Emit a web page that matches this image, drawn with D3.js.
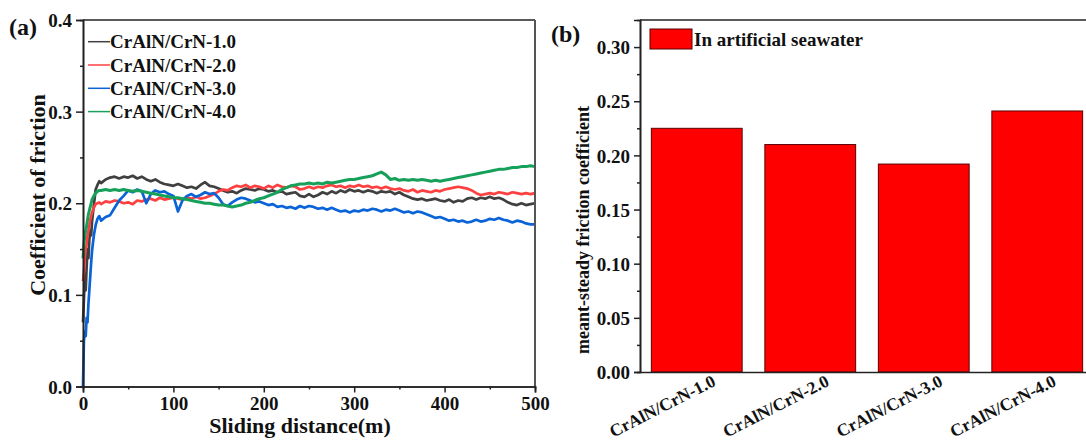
<!DOCTYPE html>
<html><head><meta charset="utf-8">
<script src="https://cdn.jsdelivr.net/npm/d3@7"></script>
<style>
body{margin:0;background:#fff;}
svg{display:block;font-family:"Liberation Serif","Times New Roman",serif;font-weight:bold;}
</style></head><body>
<svg id="c" width="1086" height="446"></svg>
<script>
// ---------- data: panel (a) ----------
const distance = [0,1,2,3,4,5,6,7,8,9,10,12,14,16,18,20,
25,30,35,40,45,50,55,60,65,70,75,80,85,90,95,100,105,110,115,120,125,130,135,140,145,150,155,160,165,170,175,180,185,190,195,200,
205,210,215,220,225,230,235,240,245,250,255,260,265,270,275,280,285,290,295,300,305,310,315,320,325,330,335,340,345,350,355,360,365,370,375,380,385,390,395,400,
405,410,415,420,425,430,435,440,445,450,455,460,465,470,475,480,485,490,495,500];
const series1 = [0.070,0.095,0.120,0.105,0.130,0.150,0.140,0.160,0.170,0.165,0.180,0.198,0.215,0.220,0.224,0.222,
0.226,0.228,0.229,0.227,0.229,0.228,0.230,0.227,0.229,0.226,0.224,0.226,0.223,0.221,0.220,0.219,0.221,0.219,0.217,0.218,0.216,0.220,0.223,0.219,0.218,0.216,0.214,0.212,0.213,0.211,0.214,0.216,0.215,0.214,0.216,0.215,
0.213,0.214,0.212,0.213,0.210,0.211,0.212,0.208,0.207,0.210,0.207,0.209,0.212,0.210,0.213,0.211,0.214,0.212,0.215,0.213,0.214,0.212,0.214,0.213,0.211,0.213,0.212,0.213,0.210,0.212,0.209,0.207,0.205,0.204,0.205,0.203,0.204,0.205,0.203,0.202,
0.204,0.201,0.203,0.202,0.205,0.206,0.204,0.206,0.205,0.207,0.205,0.206,0.204,0.201,0.199,0.198,0.200,0.198,0.199,0.200];
const series2 = [0.115,0.125,0.140,0.150,0.155,0.165,0.170,0.176,0.182,0.186,0.190,0.195,0.199,0.200,0.201,0.199,
0.202,0.201,0.203,0.202,0.200,0.201,0.199,0.203,0.202,0.204,0.205,0.203,0.206,0.204,0.205,0.206,0.205,0.204,0.206,0.205,0.207,0.205,0.206,0.208,0.210,0.213,0.215,0.214,0.217,0.219,0.218,0.220,0.217,0.219,0.218,0.216,
0.219,0.217,0.220,0.218,0.217,0.219,0.218,0.215,0.216,0.218,0.216,0.218,0.217,0.219,0.220,0.218,0.219,0.217,0.219,0.218,0.220,0.218,0.219,0.217,0.218,0.216,0.218,0.216,0.215,0.216,0.214,0.213,0.215,0.212,0.214,0.213,0.212,0.214,0.213,0.215,
0.216,0.217,0.218,0.217,0.216,0.214,0.211,0.209,0.210,0.211,0.210,0.212,0.211,0.210,0.212,0.211,0.210,0.211,0.210,0.211];
const series3 = [0.000,0.050,0.060,0.055,0.075,0.070,0.090,0.105,0.120,0.135,0.148,0.165,0.176,0.183,0.186,0.181,
0.185,0.187,0.195,0.203,0.208,0.214,0.212,0.215,0.213,0.200,0.210,0.214,0.212,0.213,0.210,0.208,0.191,0.203,0.208,0.210,0.207,0.209,0.212,0.210,0.211,0.206,0.199,0.197,0.201,0.204,0.206,0.205,0.203,0.201,0.202,0.200,
0.198,0.199,0.196,0.197,0.195,0.196,0.194,0.197,0.195,0.197,0.196,0.194,0.195,0.193,0.195,0.193,0.191,0.192,0.190,0.192,0.191,0.193,0.192,0.194,0.193,0.191,0.193,0.192,0.194,0.192,0.190,0.191,0.189,0.191,0.190,0.188,0.186,0.184,0.185,0.183,
0.181,0.182,0.180,0.181,0.179,0.180,0.182,0.180,0.181,0.183,0.182,0.184,0.182,0.181,0.179,0.181,0.180,0.178,0.177,0.177];
const series4 = [0.140,0.155,0.165,0.170,0.175,0.182,0.188,0.192,0.196,0.200,0.204,0.208,0.211,0.213,0.214,0.214,
0.215,0.214,0.215,0.214,0.215,0.214,0.213,0.214,0.213,0.212,0.211,0.210,0.209,0.208,0.207,0.206,0.206,0.205,0.204,0.203,0.202,0.201,0.200,0.200,0.199,0.198,0.198,0.197,0.196,0.197,0.198,0.200,0.201,0.203,0.205,0.206,
0.208,0.210,0.212,0.215,0.217,0.219,0.220,0.221,0.221,0.222,0.221,0.222,0.221,0.223,0.222,0.223,0.224,0.225,0.226,0.226,0.227,0.228,0.229,0.230,0.232,0.234,0.231,0.226,0.227,0.225,0.226,0.225,0.226,0.225,0.226,0.225,0.224,0.225,0.224,0.225,
0.226,0.227,0.228,0.229,0.230,0.231,0.232,0.233,0.234,0.235,0.236,0.237,0.237,0.238,0.239,0.239,0.240,0.240,0.241,0.240];
const seriesNames = ["CrAlN/CrN-1.0","CrAlN/CrN-2.0","CrAlN/CrN-3.0","CrAlN/CrN-4.0"];
const seriesColors = ["#404040","#ff4040","#0a64d8","#17a05a"];
const xTicksA = [0,100,200,300,400,500];
const yTicksA = [0,0.1,0.2,0.3,0.4];

// ---------- data: panel (b) ----------
const categories = ["CrAlN/CrN-1.0","CrAlN/CrN-2.0","CrAlN/CrN-3.0","CrAlN/CrN-4.0"];
const steadyCoef = [0.225,0.210,0.192,0.241];
const yTicksB = [0,0.05,0.10,0.15,0.20,0.25,0.30];

const svg = d3.select("#c");
const AX = "#222";

// ---------- panel (a) ----------
const xA = d3.scaleLinear().domain([0,500]).range([83,535]);
const yA = d3.scaleLinear().domain([0,0.4]).range([386.5,20]);
const allSeries = [series1,series2,series3,series4];
const line = d3.line().x((d,i)=>xA(distance[i])).y(d=>yA(d));
allSeries.forEach((s,k)=>{
  svg.append("path").datum(s).attr("d",line).attr("fill","none")
    .attr("stroke",seriesColors[k]).attr("stroke-width",k===3?3:2.7).attr("stroke-linejoin","round");
});
// frame
svg.append("line").attr("x1",xA(0)).attr("x2",xA(500)).attr("y1",yA(0.4)).attr("y2",yA(0.4)).attr("stroke",AX).attr("stroke-width",1.6);
svg.append("line").attr("x1",xA(500)).attr("x2",xA(500)).attr("y1",yA(0.4)).attr("y2",yA(0)).attr("stroke","#555").attr("stroke-width",2);
// axes
const gxA = svg.append("g").attr("transform",`translate(0,${yA(0)})`)
  .call(d3.axisBottom(xA).tickValues(xTicksA).tickSize(6).tickPadding(4).tickFormat(d3.format("d")));
const gxAm = svg.append("g").attr("transform",`translate(0,${yA(0)})`)
  .call(d3.axisBottom(xA).tickValues([50,150,250,350,450]).tickSize(3).tickFormat(""));
const gyA = svg.append("g").attr("transform",`translate(${xA(0)},0)`)
  .call(d3.axisLeft(yA).tickValues(yTicksA).tickSize(7).tickPadding(4).tickFormat(d3.format(".1f")));
const gyAm = svg.append("g").attr("transform",`translate(${xA(0)},0)`)
  .call(d3.axisLeft(yA).tickValues([0.05,0.15,0.25,0.35]).tickSize(3).tickFormat(""));
[gxA,gxAm,gyA,gyAm].forEach(g=>{
  g.select(".domain").attr("stroke",AX).attr("stroke-width",1.6);
  g.selectAll(".tick line").attr("stroke",AX).attr("stroke-width",1.5);
  g.selectAll("text").attr("fill","#111").style("font-size","19px").style("font-family","Liberation Serif, serif").style("font-weight","bold");
});
gyA.selectAll("text").attr("dy","0.35em");
gxA.selectAll("text").attr("dy","0.72em");
svg.append("text").attr("x",300).attr("y",433).attr("text-anchor","middle")
  .style("font-size","22px").attr("fill","#111").text("Sliding distance(m)");
svg.append("text").attr("transform","translate(45,195) rotate(-90)").attr("text-anchor","middle")
  .style("font-size","22px").attr("fill","#111").text("Coefficient of friction");
svg.append("text").attr("x",9).attr("y",35).style("font-size","24px").attr("fill","#111").text("(a)");
// legend (a)
seriesNames.forEach((n,k)=>{
  const yy = 41.7 + k*23.3;
  svg.append("line").attr("x1",88).attr("x2",110).attr("y1",yy).attr("y2",yy).attr("stroke",seriesColors[k]).attr("stroke-width",1.5);
  svg.append("text").attr("x",110).attr("y",yy+6.5).style("font-size","19px").attr("fill","#111").text(n);
});

// ---------- panel (b) ----------
const xB = d3.scaleBand().domain(categories).range([640,1094]).paddingInner(0.2).paddingOuter(0.1);
const yB = d3.scaleLinear().domain([0,0.325]).range([372,20]);
svg.selectAll("rect.bar").data(steadyCoef).enter().append("rect").attr("class","bar")
  .attr("x",(d,i)=>xB(categories[i])).attr("width",xB.bandwidth())
  .attr("y",d=>yB(d)).attr("height",d=>yB(0)-yB(d))
  .attr("fill","#ff0000").attr("stroke","#5a0000").attr("stroke-width",1);
svg.append("line").attr("x1",640).attr("x2",1086).attr("y1",20).attr("y2",20).attr("stroke",AX).attr("stroke-width",1.6);
const gyB = svg.append("g").attr("transform","translate(640,0)")
  .call(d3.axisLeft(yB).tickValues(yTicksB).tickSize(6).tickPadding(4).tickFormat(d3.format(".2f")));
const gyBm = svg.append("g").attr("transform","translate(640,0)")
  .call(d3.axisLeft(yB).tickValues([0.025,0.075,0.125,0.175,0.225,0.275]).tickSize(3).tickFormat(""));
const gxB = svg.append("g").attr("transform","translate(0,372)")
  .call(d3.axisBottom(xB).tickSize(0).tickFormat(""));
[gyB,gyBm,gxB].forEach(g=>{
  g.select(".domain").attr("stroke",AX).attr("stroke-width",1.6);
  g.selectAll(".tick line").attr("stroke",AX).attr("stroke-width",1.5);
  g.selectAll("text").attr("fill","#111").style("font-size","19px").style("font-family","Liberation Serif, serif").style("font-weight","bold");
});
gyB.selectAll("text").attr("dy","0.35em");
// rotated category labels
categories.forEach(c=>{
  const cx = xB(c)+xB.bandwidth()/2;
  svg.append("text").attr("transform",`translate(${cx+20},385) rotate(-27)`).attr("text-anchor","end")
    .style("font-size","17.5px").attr("fill","#111").text(c);
});
svg.append("text").attr("transform","translate(589,230) rotate(-90)").attr("text-anchor","middle")
  .style("font-size","18px").attr("fill","#111").text("meant-steady friction coefficient");
svg.append("text").attr("x",551).attr("y",42).style("font-size","24px").attr("fill","#111").text("(b)");
// legend (b)
svg.append("rect").attr("x",650).attr("y",29).attr("width",42).attr("height",20).attr("fill","#ff0000").attr("stroke","#5a0000").attr("stroke-width",1);
svg.append("text").attr("x",694).attr("y",46).style("font-size","19px").attr("fill","#111").text("In artificial seawater");
</script></body></html>
